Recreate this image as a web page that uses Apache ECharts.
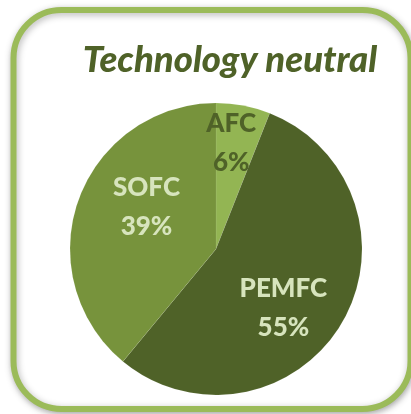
<!DOCTYPE html>
<html><head><meta charset="utf-8">
<script src="https://cdn.jsdelivr.net/npm/echarts@6/dist/echarts.min.js"></script>
<style>html,body{margin:0;padding:0;background:#fff}#c{width:411px;height:414px}</style>
</head><body><div id="c"></div>
<script>
const categories = ['AFC', 'PEMFC', 'SOFC'];
const values = [6, 55, 39];
const colors = ['#93b553', '#4f6228', '#77933c'];
const labelColors = ['#4f6228', '#d7e4bd', '#d7e4bd'];
const labelOffsets = [[1, -31], [2, 20], [2, -16]];
const titleText = 'Technology neutral';

const chart = echarts.init(document.getElementById('c'), null, {renderer: 'canvas'});
chart.setOption({
  animation: false,
  graphic: [{
    type: 'rect', z: -10,
    shape: {x: 13.5, y: 10, width: 397, height: 399, r: 48},
    style: {fill: '#fff', stroke: '#9bbb59', lineWidth: 6,
      shadowBlur: 7, shadowColor: 'rgba(0,0,0,0.3)', shadowOffsetX: 1, shadowOffsetY: 2}
  }],
  title: {
    text: titleText, left: 225, top: 37, textAlign: 'center',
    textStyle: {fontFamily: 'Lato', fontStyle: 'italic', fontWeight: 900, fontSize: 36.5, color: '#4f6228'}
  },
  series: [{
    type: 'pie', center: [216, 249], radius: 146, startAngle: 90, clockwise: true,
    label: {
      position: 'inner', fontFamily: 'Lato', fontWeight: 900, fontSize: 26, lineHeight: 39,
      formatter: p => p.name + '\n' + p.value + '%'
    },
    labelLine: {show: false},
    itemStyle: {borderColor: 'rgba(255,255,255,0.15)', borderWidth: 0.5},
    data: categories.map((c, i) => ({
      name: c, value: values[i],
      itemStyle: {color: colors[i]},
      label: {color: labelColors[i], offset: labelOffsets[i]}
    }))
  }]
});
</script></body></html>
